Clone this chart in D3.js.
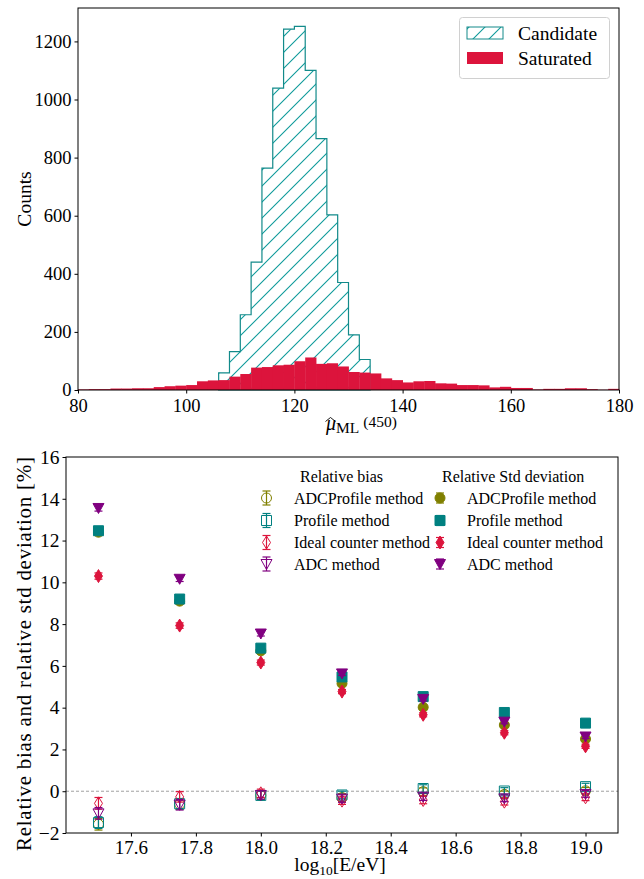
<!DOCTYPE html>
<html><head><meta charset="utf-8">
<script src="https://cdn.jsdelivr.net/npm/d3@7"></script>
<style>body{margin:0;background:#fff} svg text{font-family:"Liberation Serif","DejaVu Serif",serif;fill:#000}</style>
</head><body><svg id="c" width="644" height="879"></svg>
<script>
// ---------- Histogram data ----------
const satBins = [80,82,84,86,88,90,92,94,96,98,100,102,104,106,108,110,112,114,116,118,120,122,124,126,128,130,132,134,136,138,140,142,144,146,148,150,152,154,156,158,160,162,164,166,168,170,172,174,176,178];
const satCounts = [2,3,3,5,5,6,6,10,13,15,17,30,33,34,46,55,77,79,85,87,99,112,90,92,81,62,60,57,40,34,26,30,31,23,22,17,17,16,9,11,7,7,2,4,4,6,6,3,1,4];
const candBins = [106,108,110,112,114,116,118,120,122,124,126,128,130,132];
const candCounts = [59,132,259,440,764,1039,1242,1252,1100,865,603,370,190,105];
const binWidth = 2;
const histXTicks = [80,100,120,140,160,180];
const histYTicks = [0,200,400,600,800,1000,1200];

// ---------- Bias / std data ----------
const energies = [17.5,17.75,18.0,18.25,18.5,18.75,19.0];
const stdADCProfile = [12.4,9.1,6.72,5.16,4.02,3.17,2.5];
const stdProfile = [12.47,9.2,6.85,5.47,4.53,3.77,3.26];
const stdIdeal = [10.3,7.93,6.16,4.77,3.66,2.8,2.15];
const stdADC = [13.56,10.17,7.55,5.64,4.42,3.33,2.62];
const stdErr = [0.15,0.13,0.12,0.1,0.1,0.1,0.1];
const biasADCProfile = [-1.58,-0.62,-0.2,-0.3,-0.02,-0.15,0.02];
const biasProfile = [-1.5,-0.6,-0.2,-0.18,0.13,0.01,0.22];
const biasIdeal = [-0.58,-0.27,-0.1,-0.45,-0.42,-0.5,-0.29];
const biasADC = [-1.06,-0.65,-0.18,-0.35,-0.26,-0.34,-0.13];
const biasErr = [0.28,0.25,0.2,0.18,0.18,0.16,0.16];
const bottomXTicks = [17.6,17.8,18.0,18.2,18.4,18.6,18.8,19.0];
const bottomYTicks = [-2,0,2,4,6,8,10,12,14,16];

const methodNames = ["ADCProfile method","Profile method","Ideal counter method","ADC method"];
const methodColors = ["#808000","#008080","#DC143C","#800080"];
const methodShapes = ["circle","square","diamond","tri"];

const FONT = '"Liberation Serif", "DejaVu Serif", serif';
const svg = d3.select("#c").attr("font-family", FONT);
const defs = svg.append("defs");
const pat = defs.append("pattern").attr("id","hatch").attr("patternUnits","userSpaceOnUse")
  .attr("width",16).attr("height",16);
pat.append("path").attr("d","M0,16L16,0M-4,4L4,-4M12,20L20,12").attr("stroke","#0e9a9a").attr("stroke-width",1.1);

function txt(x,y,size,s){ return svg.append("text").attr("x",x).attr("y",y).attr("font-family",FONT).style("font-size",size+"px").text(s); }

// ================= TOP HISTOGRAM =================
const hx = d3.scaleLinear().domain([80,180]).range([78,619]);
const hy = d3.scaleLinear().domain([0,1315]).range([390,8]);

const candPts = [[candBins[0],0]];
candBins.forEach((b,i)=>{ candPts.push([b,candCounts[i]]); candPts.push([b+binWidth,candCounts[i]]); });
candPts.push([candBins[candBins.length-1]+binWidth,0]);
const line = d3.line().x(d=>hx(d[0])).y(d=>hy(d[1]));
svg.append("path").attr("d",line(candPts)+"Z").attr("fill","url(#hatch)").attr("stroke","#128a8a").attr("stroke-width",1.2);

svg.append("g").selectAll("rect").data(satBins).join("rect")
  .attr("x",d=>hx(d)).attr("width",d=>hx(d+binWidth)-hx(d)+0.4)
  .attr("y",(d,i)=>hy(satCounts[i])).attr("height",(d,i)=>hy(0)-hy(satCounts[i]))
  .attr("fill","#DC143C");

function styleAxis(g,size){
  g.attr("font-family",FONT);
  g.select(".domain").remove();
  g.selectAll("text").attr("font-family",FONT).style("font-family",FONT).style("font-size",size+"px").attr("fill","#000");
  g.selectAll("line").attr("stroke","#000");
}
const hax = svg.append("g").attr("transform","translate(0,390)")
  .call(d3.axisBottom(hx).tickValues(histXTicks).tickSize(3.5).tickPadding(3).tickFormat(d3.format("d")));
const hay = svg.append("g").attr("transform","translate(78,0)")
  .call(d3.axisLeft(hy).tickValues(histYTicks).tickSize(3.5).tickPadding(3).tickFormat(d3.format("d")));
styleAxis(hax,18.5); styleAxis(hay,18.5);
hax.selectAll("text").attr("dy","0.82em");
svg.append("rect").attr("x",78).attr("y",8).attr("width",619-78).attr("height",390-8).attr("fill","none").attr("stroke","#000").attr("stroke-width",1);

// legend
svg.append("rect").attr("x",459.5).attr("y",17.5).attr("width",150).attr("height",61).attr("rx",3)
  .attr("fill","#fff").attr("fill-opacity",0.8).attr("stroke","#d0d0d0");
svg.append("rect").attr("x",467).attr("y",27).attr("width",36).attr("height",12).attr("fill","url(#hatch)").attr("stroke","#128a8a");
svg.append("rect").attr("x",467).attr("y",52).attr("width",36).attr("height",12).attr("fill","#DC143C");
txt(518,39.5,19.5,"Candidate");
txt(518,65,19.5,"Saturated");

// axis labels
svg.append("text").attr("transform","translate(31,199) rotate(-90)").attr("text-anchor","middle").attr("font-family",FONT).style("font-size","19.5px").text("Counts");
const xl = svg.append("text").attr("x",326).attr("y",430).attr("font-family",FONT);
xl.append("tspan").style("font-style","italic").style("font-size","20px").text("μ");
xl.append("tspan").style("font-size","15.5px").attr("dy",3).text("ML");
xl.append("tspan").style("font-size","15.5px").attr("dx",4).attr("dy",-6).text("(450)");
svg.append("path").attr("d","M325.5,421.5L330.5,417.5L335.5,421.5").attr("fill","none").attr("stroke","#000").attr("stroke-width",0.9);

// ================= BOTTOM PLOT =================
const bx = d3.scaleLinear().domain([17.4,19.1]).range([66,618]);
const by = d3.scaleLinear().domain([-2,16]).range([833,457]);

svg.append("line").attr("x1",bx(17.4)).attr("x2",bx(19.1)).attr("y1",by(0)).attr("y2",by(0))
  .attr("stroke","#a0a0a0").attr("stroke-width",1).attr("stroke-dasharray","3,2");

function shapePath(s){
  if(s==="circle") return d3.symbol(d3.symbolCircle, Math.PI*25)();
  if(s==="square") return "M-5,-5H5V5H-5Z";
  if(s==="diamond") return "M0,-6.5L4,0L0,6.5L-4,0Z";
  return "M-5.5,-4.5H5.5L0,5.5Z";
}
function drawSeries(vals, errs, color, shape, filled){
  const g = svg.append("g");
  energies.forEach((e,i)=>{
    const cx = bx(e), y0 = by(vals[i]-errs[i]), y1 = by(vals[i]+errs[i]);
    g.append("line").attr("x1",cx).attr("x2",cx).attr("y1",y0).attr("y2",y1).attr("stroke",color).attr("stroke-width",1.2);
    g.append("line").attr("x1",cx-4).attr("x2",cx+4).attr("y1",y0).attr("y2",y0).attr("stroke",color).attr("stroke-width",1.2);
    g.append("line").attr("x1",cx-4).attr("x2",cx+4).attr("y1",y1).attr("y2",y1).attr("stroke",color).attr("stroke-width",1.2);
    g.append("path").attr("d",shapePath(shape)).attr("transform",`translate(${cx},${by(vals[i])})`)
      .attr("fill",filled?color:"none").attr("stroke",color).attr("stroke-width",1);
  });
}
const biasSeries = [biasADCProfile,biasProfile,biasIdeal,biasADC];
const stdSeries = [stdADCProfile,stdProfile,stdIdeal,stdADC];
biasSeries.forEach((s,k)=>drawSeries(s,biasErr,methodColors[k],methodShapes[k],false));
stdSeries.forEach((s,k)=>drawSeries(s,stdErr,methodColors[k],methodShapes[k],true));

const bax = svg.append("g").attr("transform","translate(0,833)")
  .call(d3.axisBottom(bx).tickValues(bottomXTicks).tickSize(3.5).tickPadding(3).tickFormat(d3.format(".1f")));
const bay = svg.append("g").attr("transform","translate(66,0)")
  .call(d3.axisLeft(by).tickValues(bottomYTicks).tickSize(3.5).tickPadding(3).tickFormat(d=>d<0?"\u2212"+Math.abs(d):d));
styleAxis(bax,19); styleAxis(bay,19.5);
bax.selectAll("text").attr("dy","0.78em");
svg.append("rect").attr("x",66).attr("y",457).attr("width",618-66).attr("height",833-457).attr("fill","none").attr("stroke","#000").attr("stroke-width",1);

// legend
txt(300,482,16,"Relative bias");
txt(442,482,16,"Relative Std deviation");
const rowY = [498,520.5,542.5,564];
methodNames.forEach((n,k)=>{
  [[266.5,false,7],[440,true,5]].forEach(([lx,filled,eh])=>{
    const c = methodColors[k], y = rowY[k];
    svg.append("line").attr("x1",lx).attr("x2",lx).attr("y1",y-eh).attr("y2",y+eh).attr("stroke",c).attr("stroke-width",1.2);
    svg.append("line").attr("x1",lx-4).attr("x2",lx+4).attr("y1",y-eh).attr("y2",y-eh).attr("stroke",c).attr("stroke-width",1.2);
    svg.append("line").attr("x1",lx-4).attr("x2",lx+4).attr("y1",y+eh).attr("y2",y+eh).attr("stroke",c).attr("stroke-width",1.2);
    svg.append("path").attr("d",shapePath(methodShapes[k])).attr("transform",`translate(${lx},${y})`)
      .attr("fill",filled?c:"none").attr("stroke",c).attr("stroke-width",1);
  });
  txt(294,rowY[k]+5.5,16,n);
  txt(467,rowY[k]+5.5,16,n);
});

// axis labels
svg.append("text").attr("transform","translate(31,654) rotate(-90)").attr("text-anchor","middle").attr("font-family",FONT)
  .style("font-size","21px").attr("textLength",394).attr("lengthAdjust","spacing").text("Relative bias and relative std deviation [%]");
const bxl = svg.append("text").attr("x",340).attr("y",871).attr("text-anchor","middle").attr("font-family",FONT).style("font-size","19.5px");
bxl.append("tspan").text("log");
bxl.append("tspan").style("font-size","13.5px").attr("dy",4).text("10");
bxl.append("tspan").attr("dy",-4).text("[E/eV]");
</script></body></html>
